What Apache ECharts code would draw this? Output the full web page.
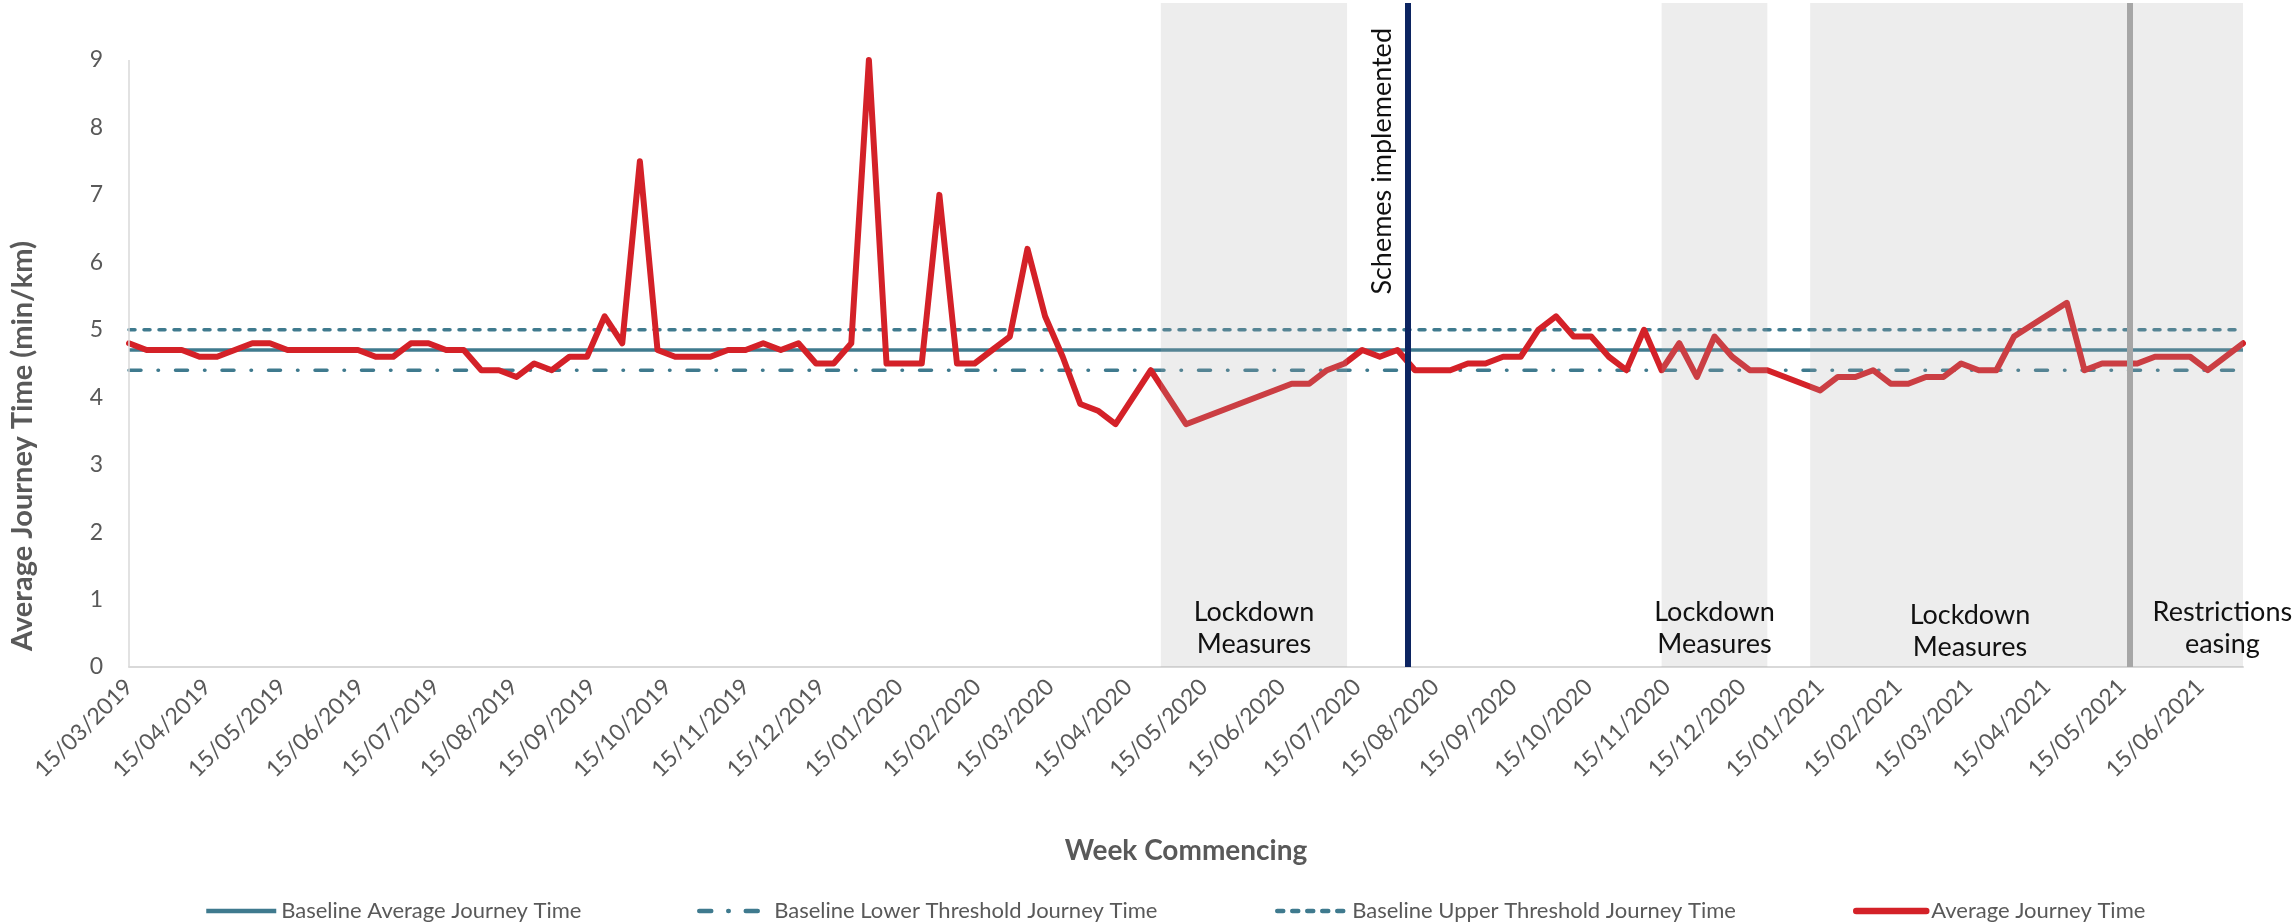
<!DOCTYPE html>
<html><head><meta charset="utf-8">
<script src="https://cdn.jsdelivr.net/npm/echarts@6/dist/echarts.min.js"></script>
<style>html,body{margin:0;padding:0;background:#fff}#c{width:2293px;height:923px}</style>
</head><body><div id="c"></div>
<script>
// ---------- data ----------
const firstWeek = '2019-03-15';   // week commencing of first value, weekly thereafter
const lastDate = '2021-07-02';
// weekly Average Journey Time (min/km); null = no data that week
const avgJourneyTime = [
  4.8,4.7,4.7,4.7,4.6,4.6,4.7,4.8,4.8,4.7,
  4.7,4.7,4.7,4.7,4.6,4.6,4.8,4.8,4.7,4.7,
  4.4,4.4,4.3,4.5,4.4,4.6,4.6,5.2,4.8,7.5,
  4.7,4.6,4.6,4.6,4.7,4.7,4.8,4.7,4.8,4.5,
  4.5,4.8,9.0,4.5,4.5,4.5,7.0,4.5,4.5,4.7,
  4.9,6.2,5.2,4.6,3.9,3.8,3.6,null,4.4,null,
  3.6,null,null,null,null,null,4.2,4.2,4.4,4.5,
  4.7,4.6,4.7,4.4,4.4,4.4,4.5,4.5,4.6,4.6,
  5.0,5.2,4.9,4.9,4.6,4.4,5.0,4.4,4.8,4.3,
  4.9,4.6,4.4,4.4,null,null,4.1,4.3,4.3,4.4,
  4.2,4.2,4.3,4.3,4.5,4.4,4.4,4.9,null,null,
  5.4,4.4,4.5,4.5,4.5,4.6,4.6,4.6,4.4,null,
  4.8
];
const baselineAvg = 4.7;
const baselineLower = 4.4;
const baselineUpper = 5.0;
const tickLabels = ['15/03/2019','15/04/2019','15/05/2019','15/06/2019','15/07/2019','15/08/2019','15/09/2019','15/10/2019','15/11/2019','15/12/2019','15/01/2020','15/02/2020','15/03/2020','15/04/2020','15/05/2020','15/06/2020','15/07/2020','15/08/2020','15/09/2020','15/10/2020','15/11/2020','15/12/2020','15/01/2021','15/02/2021','15/03/2021','15/04/2021','15/05/2021','15/06/2021'];
const yTicks = [0,1,2,3,4,5,6,7,8,9];
const lockdownPeriods = [['2020-04-28','2020-07-11'],['2020-11-13','2020-12-25'],['2021-01-11','2021-05-18']];
const easingPeriod = ['2021-05-18','2021-07-02'];
const schemesDate = '2020-08-04';
const easingDate = '2021-05-18';

// ---------- helpers ----------
function iso(s){const [y,m,d]=s.split('-').map(Number);return Date.UTC(y,m-1,d);}
function dmy(s){const [d,m,y]=s.split('/').map(Number);return Date.UTC(y,m-1,d);}
const WEEK = 7*86400000;
const t0 = iso(firstWeek), tEnd = iso(lastDate);
const tickTs = tickLabels.map(dmy);
const avgData = avgJourneyTime.map((v,i)=>[t0+i*WEEK,v]).filter(p=>p[1]!==null);
const flat = v => [[t0,v],[tEnd,v]];

const TEAL = '#3f7a8e', RED = '#d42128', GREY_TXT = '#595959', FONT = 'Lato';
const shade = 'rgba(168,168,168,0.21)';
const annot = {show:true, position:'insideBottom', color:'#111', fontFamily:FONT, fontSize:27, lineHeight:32, distance:7};

const chart = echarts.init(document.getElementById('c'), null, {renderer:'canvas'});
function legendAt(name, left, width){
  return {data:[name], left:left, top:900, itemWidth:70, itemHeight:14, padding:0, itemGap:0, selectedMode:false,
    itemStyle:{opacity:0}, lineStyle:{width:width},
    textStyle:{fontFamily:FONT, fontSize:22, color:GREY_TXT}};
}
chart.setOption({
  animation:false,
  backgroundColor:'#fff',
  grid:{left:126, right:50, top:3, bottom:256},
  legend:[
    legendAt('Baseline Average Journey Time', 204, 4.5),
    legendAt('Baseline Lower Threshold Journey Time', 697, 4.5),
    legendAt('Baseline Upper Threshold Journey Time', 1275, 4.5),
    legendAt('Average Journey Time', 1853, 6.5)
  ],
  xAxis:{
    type:'value', min:t0, max:tEnd,
    axisLine:{lineStyle:{color:'#d9d9d9', width:2}},
    axisTick:{show:false}, splitLine:{show:false},
    axisLabel:{customValues:tickTs, rotate:45, margin:16, fontFamily:FONT, fontSize:23, color:GREY_TXT,
      formatter:(v)=>{const i=tickTs.findIndex(t=>Math.abs(t-v)<43200000);return i>=0?tickLabels[i]:'';}},
    name:'Week Commencing', nameLocation:'middle', nameGap:170,
    nameTextStyle:{fontFamily:FONT, fontWeight:'bold', fontSize:28, color:GREY_TXT}
  },
  yAxis:{
    type:'value', min:0, max:9.845, interval:1,
    axisLine:{show:false}, axisTick:{show:false}, splitLine:{show:false},
    axisLabel:{margin:26, fontFamily:FONT, fontSize:23, color:GREY_TXT,
      formatter:(v)=>yTicks.indexOf(v)>=0?String(v):''},
    name:'Average Journey Time (min/km)', nameLocation:'middle', nameGap:92,
    nameTextStyle:{fontFamily:FONT, fontWeight:'bold', fontSize:29, color:GREY_TXT, padding:[0,222,0,0]}
  },
  series:[
    {name:'Baseline Average Journey Time', type:'line', data:flat(baselineAvg), symbol:'none',
      lineStyle:{color:TEAL, width:3.5}, itemStyle:{color:TEAL}},
    {name:'Baseline Lower Threshold Journey Time', type:'line', data:flat(baselineLower), symbol:'none',
      lineStyle:{color:TEAL, width:3.5, type:[12,17,0.5,17], cap:'round'}, itemStyle:{color:TEAL}},
    {name:'Baseline Upper Threshold Journey Time', type:'line', data:flat(baselineUpper), symbol:'none',
      lineStyle:{color:TEAL, width:3.5, type:[6,9], cap:'round'}, itemStyle:{color:TEAL}},
    {name:'Average Journey Time', type:'line', data:avgData, symbol:'none',
      lineStyle:{color:RED, width:6, join:'round', cap:'round'}, itemStyle:{color:RED},
      markArea:{silent:true, z:10, itemStyle:{color:shade},
        data:[
          [{xAxis:iso(lockdownPeriods[0][0]), name:'Lockdown\nMeasures', label:annot},{xAxis:iso(lockdownPeriods[0][1])}],
          [{xAxis:iso(lockdownPeriods[1][0]), name:'Lockdown\nMeasures', label:annot},{xAxis:iso(lockdownPeriods[1][1])}],
          [{xAxis:iso(lockdownPeriods[2][0]), name:'Lockdown\nMeasures', label:Object.assign({},annot,{distance:4})},{xAxis:iso(lockdownPeriods[2][1])}],
          [{xAxis:iso(easingPeriod[0]), name:'Restrictions\neasing', label:Object.assign({},annot,{offset:[36,0]})},{xAxis:iso(easingPeriod[1])}]
        ]},
      markLine:{silent:true, z:12, symbol:['none','none'],
        data:[
          [{coord:[t0,0], lineStyle:{color:'#d9d9d9', width:1.5, type:'solid'}, label:{show:false}},{coord:[t0,9]}],
          {xAxis:iso(schemesDate), lineStyle:{color:'#0c2461', width:6, type:'solid'},
            label:{show:true, formatter:'Schemes implemented', position:'insideEndTop', distance:[25,12],
              color:'#111', fontFamily:FONT, fontSize:27}},
          {xAxis:iso(easingDate), lineStyle:{color:'#a6a6a6', width:6, type:'solid'}, label:{show:false}}
        ]}
    }
  ]
});
</script></body></html>
